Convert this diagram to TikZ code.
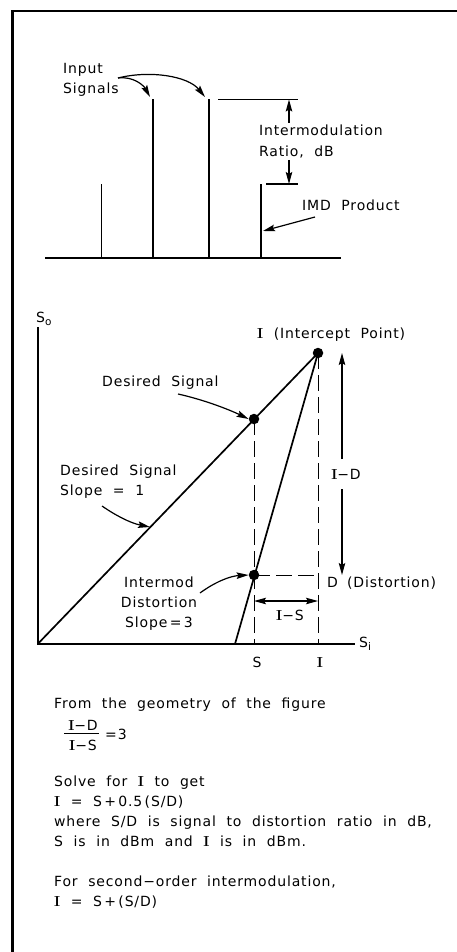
\documentclass[tikz,border=0pt]{standalone}
\usepackage{fontspec}
\setmainfont{DejaVu Sans}[LetterSpace=6,WordSpace=2]
\newfontfamily\lmr{Latin Modern Roman}
\usetikzlibrary{arrows.meta}
\newcommand\RI{{\lmr\bfseries\fontsize{14.5}{15}\selectfont I}}
\newcommand\Sub[1]{\raisebox{-3.5pt}{\fontsize{10.5}{10}\selectfont #1}}
\tikzset{
  txt/.style={font=\fontsize{14}{15}\selectfont, inner sep=0pt, anchor=base west},
  ctxt/.style={font=\fontsize{14}{15}\selectfont, inner sep=0pt, anchor=base},
  ln/.style={line width=1.7pt},
  stem/.style={line width=1.3pt},
  tip/.tip={Stealth[length=12pt,width=6.5pt,inset=2pt]},
  arr/.style={-tip, line width=1.2pt},
  dbl/.style={tip-tip, line width=1.2pt},
  dsh/.style={line width=0.9pt, dash pattern=on 16pt off 6pt},
  dotn/.style={circle, fill=black, inner sep=0pt, minimum size=10.5pt},
  frame/.style={line width=2.4pt}
}
\begin{document}
\begin{tikzpicture}[x=1pt,y=-1pt]
\useasboundingbox (0,0) rectangle (457,952);
% frame
\coordinate (fr1) at (457,11);
\coordinate (fr2) at (12.5,11);
\coordinate (fr3) at (12.5,952);
\draw[frame] (fr1) -- (fr2) -- (fr3);

% ---------- top panel ----------
\coordinate (b0) at (45,258);
\coordinate (b1) at (341,258);
\draw[ln] (b0) -- (b1);
\foreach \n/\x/\t in {1/101.7/184,2/153/99.5,3/209/99.5,4/261/184}{
  \coordinate (st\n b) at (\x,258);
  \coordinate (st\n t) at (\x,\t);
  \draw[stem] (st\n b) -- (st\n t);
}
\coordinate (r1a) at (218,99.5); \coordinate (r1b) at (298,99.5);
\coordinate (r2a) at (266,184);  \coordinate (r2b) at (298,184);
\draw[stem] (r1a) -- (r1b);
\draw[stem] (r2a) -- (r2b);
\node[txt] (input) at (63,74) {Input};
\node[txt] (signals) at (63,94) {Signals};
\coordinate (inarr) at (118,78);
\coordinate (tip1) at (150,97);
\coordinate (tip2) at (205,97);
\draw[arr] (inarr) .. controls (134,76) and (144,86) .. (tip1);
\draw[arr] (inarr) .. controls (150,70) and (188,76) .. (tip2);
\node[txt] (imr1) at (259,136) {Intermodulation};
\node[txt] (imr2) at (259,157) {Ratio, dB};
\coordinate (da1) at (289,123); \coordinate (da1t) at (289,99.5);
\coordinate (da2) at (289,160); \coordinate (da2t) at (289,184);
\draw[arr] (da1) -- (da1t);
\draw[arr] (da2) -- (da2t);
\node[txt] (imd) at (302,210) {IMD Product};
\coordinate (imdA) at (315,217);
\coordinate (imdT) at (263,231);
\draw[arr] (imdA) -- (imdT);

% ---------- bottom panel ----------
\coordinate (O) at (37.7,644);
\coordinate (ytop) at (37.7,327);
\coordinate (xend) at (355,644);
\draw[ln] (ytop) -- (O) -- (xend);
\node[txt] (So) at (36,322) {S\Sub{o}};
\node[txt] (Si) at (359,647) {S\Sub{i}};
\node[dotn] (IP) at (318,353) {};
\node[dotn] (DS) at (254,419) {};
\node[dotn] (DP) at (254,575) {};
\coordinate (xS) at (254,644);
\coordinate (xI) at (318,644);
\coordinate (im0) at (235,644);
\coordinate (Dc) at (318,575);
\draw[dsh] (DS.center) -- (xS);
\draw[dsh] (IP.center) -- (xI);
\draw[dsh] (DP.center) -- (Dc);
\draw[ln] (O) -- (IP.center);
\draw[ln] (im0) -- (IP.center);
\node[txt] (ipl) at (257,338) {\RI\ (Intercept Point)};
\node[txt] (dsl) at (102,386) {Desired Signal};
\coordinate (dsa) at (178,394);
\draw[arr] (dsa) .. controls (205,400) and (230,410) .. (DS.west);
\node[txt] (sl1a) at (60,475) {Desired Signal};
\node[txt] (sl1b) at (60,495) {Slope = 1};
\coordinate (sla) at (102,506);
\coordinate (slt) at (150,527);
\draw[arr] (sla) .. controls (115,515) and (130,523) .. (slt);
\node[ctxt] (im1) at (159,587) {Intermod};
\node[ctxt] (im2) at (159,607) {Distortion};
\node[ctxt] (im3) at (159,627) {Slope\,=\,3};
\coordinate (ima) at (200,593);
\draw[arr] (ima) .. controls (215,582) and (230,576) .. (DP.west);
\node[ctxt, fill=white, inner sep=2pt] (IDl) at (346,479) {\RI−D};
\coordinate (IDt) at (342,353);
\coordinate (IDb) at (342,575);
\coordinate (IDu) at (342,459);
\coordinate (IDd) at (342,489);
\draw[arr] (IDu) -- (IDt);
\draw[arr] (IDd) -- (IDb);
\node[txt] (Dl) at (327,587) {D};
\node[txt] (Dist) at (347,587) {(Distortion)};
\coordinate (isa) at (254,601);
\coordinate (isb) at (318,601);
\draw[dbl] (isa) -- (isb);
\node[ctxt] (ISl) at (290,620) {\RI−S};
\node[ctxt] (Sl) at (257,667) {S};
\node[ctxt] (Il) at (320,667) {\RI};

% ---------- text block ----------
\node[txt] (t1) at (54,708) {From the geometry of the figure};
\node[ctxt] (fn) at (83,730) {\RI−D};
\node[ctxt] (fd) at (83,750) {\RI−S};
\coordinate (fl1) at (64,733);
\coordinate (fl2) at (99,733);
\draw[line width=1pt] (fl1) -- (fl2);
\node[txt] (feq) at (105,739) {=3};
\node[txt] (t2) at (54,786) {Solve for \RI\ to get};
\node[txt] (t3) at (54,806) {\RI\ =\ S\,+\,0.5\,(S/D)};
\node[txt] (t4) at (54,826) {where S/D is signal to distortion ratio in dB,};
\node[txt] (t5) at (54,846) {S is in dBm and \RI\ is in dBm.};
\node[txt] (t6) at (54,886) {For second−order intermodulation,};
\node[txt] (t7) at (54,906) {\RI\ =\ S\,+\,(S/D)};
\end{tikzpicture}
\end{document}
